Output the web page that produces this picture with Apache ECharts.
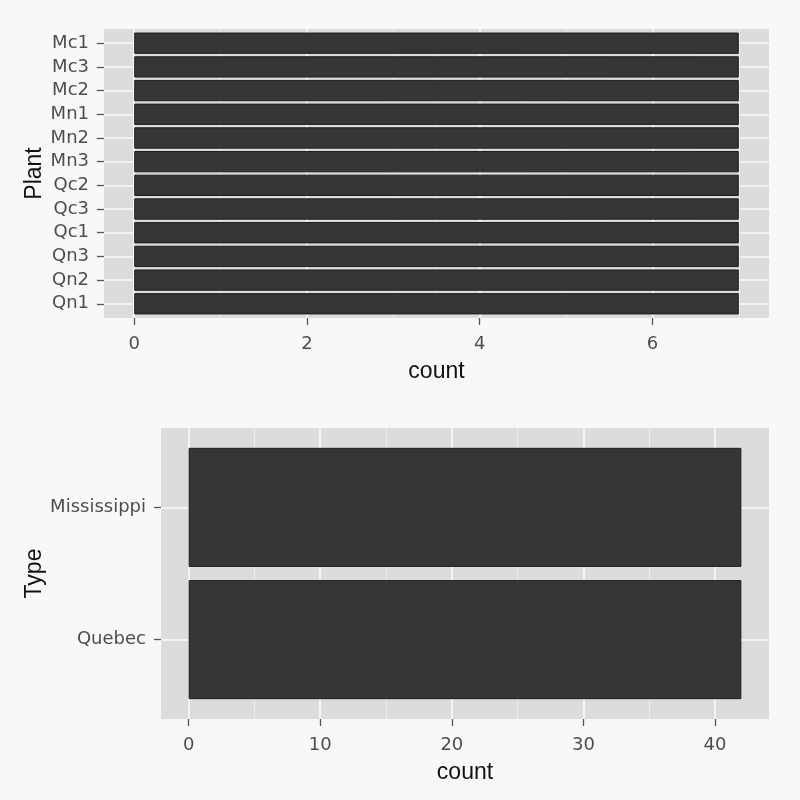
<!DOCTYPE html>
<html>
<head>
<meta charset="utf-8">
<script src="https://cdn.jsdelivr.net/npm/echarts@6/dist/echarts.min.js"></script>
<style>
html,body{margin:0;padding:0;background:#f8f8f8;}
#c{width:800px;height:800px;}
</style>
</head>
<body>
<div id="c"></div>
<script>
// Data (bottom-to-top order for the category axes)
const plants = ['Qn1','Qn2','Qn3','Qc1','Qc3','Qc2','Mn3','Mn2','Mn1','Mc2','Mc3','Mc1'];
const plantCounts = [7,7,7,7,7,7,7,7,7,7,7,7];
const types = ['Quebec','Mississippi'];
const typeCounts = [42,42];
const plantMajorTicks = [0,2,4,6];
const plantMinorTicks = [1,3,5,7];
const typeMajorTicks = [0,10,20,30,40];
const typeMinorTicks = [5,15,25,35];

const FONT = 'DejaVu Sans';
const TFONT = 'Liberation Sans';
const panelBg = '#dcdcdc';
const barFill = '#363636';
const tickCol = '#555555';
const labCol = '#4d4d4d';

// layout of panels
const P1 = {left:104, width:665, top:29, height:289};
const P2 = {left:161, width:608, top:428, height:291};
function inner(p, n){ const u = p.height/(n + 0.2); return {left:p.left, width:p.width, top:p.top + 0.1*u, height:n*u}; }
const I1 = inner(P1, plants.length);
const I2 = inner(P2, types.length);

function seq(n){ const a=[]; for(let i=0;i<n;i++) a.push(i); return a; }

function majorX(grid, min, max, ticks){
  return {type:'value', gridIndex:grid, min:min, max:max, position:'bottom',
    axisLine:{show:false, onZero:false},
    axisTick:{show:true, length:7, customValues:ticks, lineStyle:{color:tickCol,width:1.3}},
    axisLabel:{customValues:ticks, margin:17, fontFamily:FONT, fontSize:18, color:labCol},
    splitLine:{show:true, lineStyle:{color:'#fafafa', width:1.6}},
    name:'count', nameLocation:'middle', nameGap:42, nameMoveOverlap:false,
    nameTextStyle:{fontFamily:TFONT, fontSize:23, color:'#111'}};
}
function minorX(grid, min, max, ticks){
  return {type:'value', gridIndex:grid, min:min, max:max, position:'top',
    axisLine:{show:false, onZero:false}, axisTick:{show:false, customValues:ticks}, axisLabel:{show:false, customValues:ticks},
    splitLine:{show:true, lineStyle:{color:'#ececec', width:1}}};
}
function hiddenX(grid, min, max){ return {type:'value', gridIndex:grid, min:min, max:max, show:false, axisLine:{onZero:false}}; }
function bgY(grid, cats, name, gap){
  const n = cats.length;
  return {type:'value', gridIndex:grid, min:-0.6, max:n-1+0.6,
    axisLine:{show:false, onZero:false},
    axisTick:{show:true, length:7, customValues:seq(n), lineStyle:{color:tickCol,width:1.3}},
    axisLabel:{customValues:seq(n), margin:15, fontFamily:FONT, fontSize:18, color:labCol,
      formatter:function(v){ return cats[Math.round(v)]; }},
    splitLine:{show:true, lineStyle:{color:'#fafafa', width:1.6}},
    name:name, nameLocation:'middle', nameGap:gap, nameRotate:90, nameMoveOverlap:false,
    nameTextStyle:{fontFamily:TFONT, fontSize:23, color:'#111'}};
}
function catY(grid, cats){ return {type:'category', gridIndex:grid, data:cats, show:false, axisLine:{onZero:false}}; }

const barStyle = {color:barFill, borderColor:'#1e1e1e', borderWidth:1, borderRadius:0};

const option = {
  backgroundColor:'#f8f8f8',
  animation:false,
  grid:[
    Object.assign({show:true, backgroundColor:panelBg, borderWidth:0, containLabel:false, outerBoundsMode:'none'}, P1),
    Object.assign({show:false, containLabel:false, outerBoundsMode:'none'}, I1),
    Object.assign({show:true, backgroundColor:panelBg, borderWidth:0, containLabel:false, outerBoundsMode:'none'}, P2),
    Object.assign({show:false, containLabel:false, outerBoundsMode:'none'}, I2)
  ],
  xAxis:[
    majorX(0, -0.35, 7.35, plantMajorTicks),
    minorX(0, -0.35, 7.35, plantMinorTicks),
    hiddenX(1, -0.35, 7.35),
    majorX(2, -2.1, 44.1, typeMajorTicks),
    minorX(2, -2.1, 44.1, typeMinorTicks),
    hiddenX(3, -2.1, 44.1)
  ],
  yAxis:[
    bgY(0, plants, 'Plant', 58),
    catY(1, plants),
    bgY(2, types, 'Type', 115),
    catY(3, types)
  ],
  series:[
    {type:'bar', xAxisIndex:2, yAxisIndex:1, data:plantCounts, barCategoryGap:'10%', itemStyle:barStyle, silent:true},
    {type:'bar', xAxisIndex:5, yAxisIndex:3, data:typeCounts, barCategoryGap:'10%', itemStyle:barStyle, silent:true}
  ]
};
const chart = echarts.init(document.getElementById('c'), null, {renderer:'canvas'});
chart.setOption(option);
</script>
</body>
</html>
